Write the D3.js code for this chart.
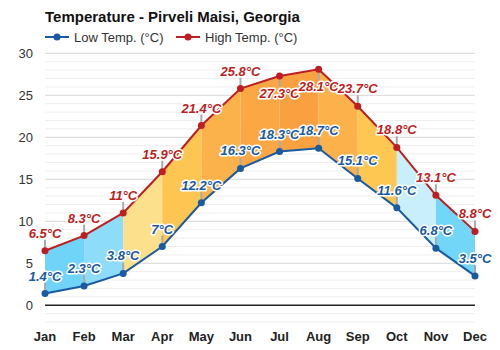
<!DOCTYPE html>
<html lang="en">
<head>
<meta charset="UTF-8">
<title>Temperature - Pirveli Maisi, Georgia</title>
<script src="https://d3js.org/d3.v7.min.js"></script>
<style>
  body { margin: 0; background: #fff; }
  text { font-family: "Liberation Sans", Arial, sans-serif; }
</style>
</head>
<body>
<div id="chart"></div>
<script>
const months = ["Jan", "Feb", "Mar", "Apr", "May", "Jun", "Jul", "Aug", "Sep", "Oct", "Nov", "Dec"];
const lowTemp = [1.4, 2.3, 3.8, 7, 12.2, 16.3, 18.3, 18.7, 15.1, 11.6, 6.8, 3.5];
const highTemp = [6.5, 8.3, 11, 15.9, 21.4, 25.8, 27.3, 28.1, 23.7, 18.8, 13.1, 8.8];
const yTicks = [0, 5, 10, 15, 20, 25, 30];

// fill colour of each band between two months
const segColors = ["#6fd4f7", "#8ddcf9", "#fde08c", "#fdc653", "#fcb24a", "#fba844",
                   "#f9a140", "#fcb14b", "#fdc752", "#caeffc", "#72d6f8"];

const W = 500, H = 350;
const lowColor = "#1a5aa0", highColor = "#bd1e22";

const svg = d3.select("#chart").append("svg")
    .attr("width", W).attr("height", H);

const x = d3.scalePoint().domain(months).range([45, 475]);
const y = d3.scaleLinear().domain([-2, 30]).range([322.1, 53.3]);

// grid
svg.append("g").selectAll("line")
  .data(d3.range(-2, 31))
  .join("line")
    .attr("x1", 45).attr("x2", 475)
    .attr("y1", d => y(d)).attr("y2", d => y(d))
    .attr("stroke", d => d === 0 ? "#222" : (d % 5 === 0 ? "#d8d8d8" : "#eeeeee"))
    .attr("stroke-width", d => d === 0 ? 1.5 : 1);

// y labels
svg.append("g").selectAll("text")
  .data(yTicks)
  .join("text")
    .attr("x", 33).attr("y", d => y(d) + 4.5)
    .attr("text-anchor", "end")
    .attr("font-size", 13).attr("fill", "#333")
    .text(d => d);

// x labels
svg.append("g").selectAll("text")
  .data(months)
  .join("text")
    .attr("x", d => x(d)).attr("y", 341)
    .attr("text-anchor", "middle")
    .attr("font-size", 13).attr("font-weight", "bold").attr("fill", "#222")
    .text(d => d);

// bands
const rows = months.map((m, i) => ({ m, lo: lowTemp[i], hi: highTemp[i] }));
const area = d3.area().x(d => x(d.m)).y0(d => y(d.lo)).y1(d => y(d.hi));
svg.append("g").selectAll("path")
  .data(d3.range(rows.length - 1))
  .join("path")
    .attr("d", i => area([rows[i], rows[i + 1]]))
    .attr("fill", i => segColors[i]);

// connectors
const high = months.map((m, i) => ({ m, v: highTemp[i], below: highTemp[i] > 27 }));
const low = months.map((m, i) => ({ m, v: lowTemp[i], below: false }));

function drawSeries(data, color) {
  svg.append("g").selectAll("line")
    .data(data)
    .join("line")
      .attr("x1", d => x(d.m)).attr("x2", d => x(d.m))
      .attr("y1", d => y(d.v)).attr("y2", d => y(d.v) + (d.below ? 11 : -11))
      .attr("stroke", "#aaa").attr("stroke-width", 2);

  svg.append("path")
    .datum(data)
    .attr("fill", "none").attr("stroke", color).attr("stroke-width", 2)
    .attr("d", d3.line().x(d => x(d.m)).y(d => y(d.v)));

  svg.append("g").selectAll("circle")
    .data(data)
    .join("circle")
      .attr("cx", d => x(d.m)).attr("cy", d => y(d.v)).attr("r", 3.5)
      .attr("fill", color);
}
drawSeries(low, lowColor);
drawSeries(high, highColor);

function drawLabels(data, color) {
  svg.append("g").selectAll("text")
    .data(data)
    .join("text")
      .attr("x", d => x(d.m))
      .attr("y", d => y(d.v) + (d.below ? 22 : -13))
      .attr("text-anchor", "middle")
      .attr("font-size", 13).attr("font-weight", "bold").attr("font-style", "italic")
      .attr("fill", color)
      .attr("stroke", "#fff").attr("stroke-width", 3).attr("stroke-linejoin", "round")
      .attr("paint-order", "stroke")
      .text(d => d.v + "°C");
}
drawLabels(low, lowColor);
drawLabels(high, highColor);

// title
svg.append("text")
    .attr("x", 45).attr("y", 22)
    .attr("font-size", 15).attr("font-weight", "bold").attr("fill", "#111")
    .text("Temperature - Pirveli Maisi, Georgia");

// legend
const legend = [["Low Temp. (°C)", lowColor, 45], ["High Temp. (°C)", highColor, 176]];
const lg = svg.append("g").selectAll("g").data(legend).join("g")
    .attr("transform", d => `translate(${d[2]},37)`);
lg.append("line").attr("x1", 0).attr("x2", 24).attr("stroke", d => d[1]).attr("stroke-width", 2);
lg.append("circle").attr("cx", 12).attr("r", 3.5).attr("fill", d => d[1]);
lg.append("text").attr("x", 29).attr("y", 4.5).attr("font-size", 13).attr("fill", "#333")
    .text(d => d[0]);
</script>
</body>
</html>
